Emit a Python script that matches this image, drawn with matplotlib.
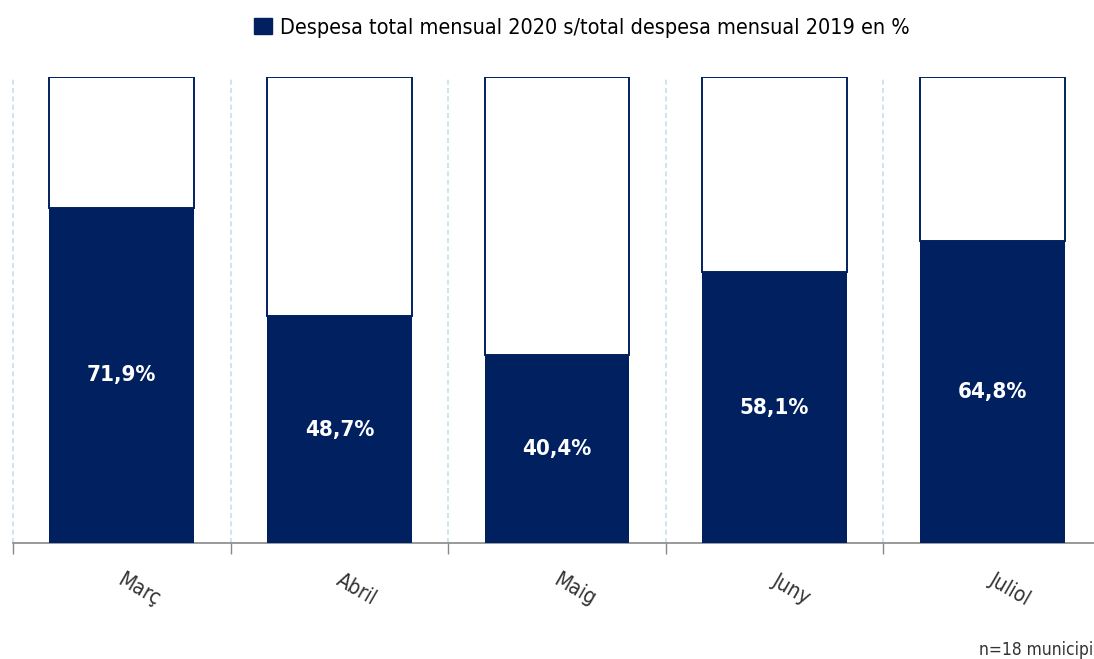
import numpy as np
import matplotlib.pyplot as plt
from matplotlib.patches import Patch

months = ["Març", "Abril", "Maig", "Juny", "Juliol"]
values = [71.9, 48.7, 40.4, 58.1, 64.8]
labels = ["71,9%", "48,7%", "40,4%", "58,1%", "64,8%"]
legend_text = "Despesa total mensual 2020 s/total despesa mensual 2019 en %"
note = "n=18 municipi"

navy = "#002060"
plt.rcParams['font.family'] = ['DejaVu Sans']
plt.rcParams['font.stretch'] = 'condensed'

fig = plt.figure(figsize=(10.94, 6.59), dpi=100)
ax = fig.add_axes([13 / 1094, 116 / 659, 1088 / 1094, 466 / 659])

x = np.arange(len(months))
rest = [100 - v for v in values]
ax.bar(x, values, width=0.665, color=navy, zorder=3)
ax.bar(x, rest, bottom=values, width=0.665, color="white", edgecolor=navy,
       linewidth=1.4, zorder=3)

for xi, v, lab in zip(x, values, labels):
    ax.text(xi, v / 2, lab, color="white", fontsize=16, fontweight="bold",
            ha="center", va="center", zorder=4)

ax.set_xlim(-0.5, len(months) - 0.5)
ax.set_ylim(0, 100)
bounds = np.arange(len(months) + 1) - 0.5
for b in bounds:
    ax.axvline(b, color="#c4e0ec", linestyle=(0, (3, 2)), linewidth=1.2,
               zorder=1, clip_on=False)

ax.set_xticks(bounds)
ax.set_xticklabels([])
ax.tick_params(axis="x", length=8, color="#888888", width=1)
ax.set_yticks([])
for s in ["top", "right", "left"]:
    ax.spines[s].set_visible(False)
ax.spines["bottom"].set_color("#888888")
ax.spines["bottom"].set_linewidth(1.2)

for xi, m in zip(x, months):
    ax.text(xi + 0.08, -0.10, m, transform=ax.get_xaxis_transform(),
            rotation=-30, ha="center", va="center", fontsize=15, color="#333333")

handle = Patch(facecolor=navy, edgecolor=navy)
fig.legend([handle], [legend_text], loc="center", bbox_to_anchor=(0.532, 0.958),
           frameon=False, fontsize=15.5, handlelength=0.8, handleheight=0.8,
           handletextpad=0.4)

fig.text(1093 / 1094, 1 - 650 / 659, note, fontsize=12.5, color="#333333",
         ha="right", va="center")

fig.savefig("out.png", dpi=100)
